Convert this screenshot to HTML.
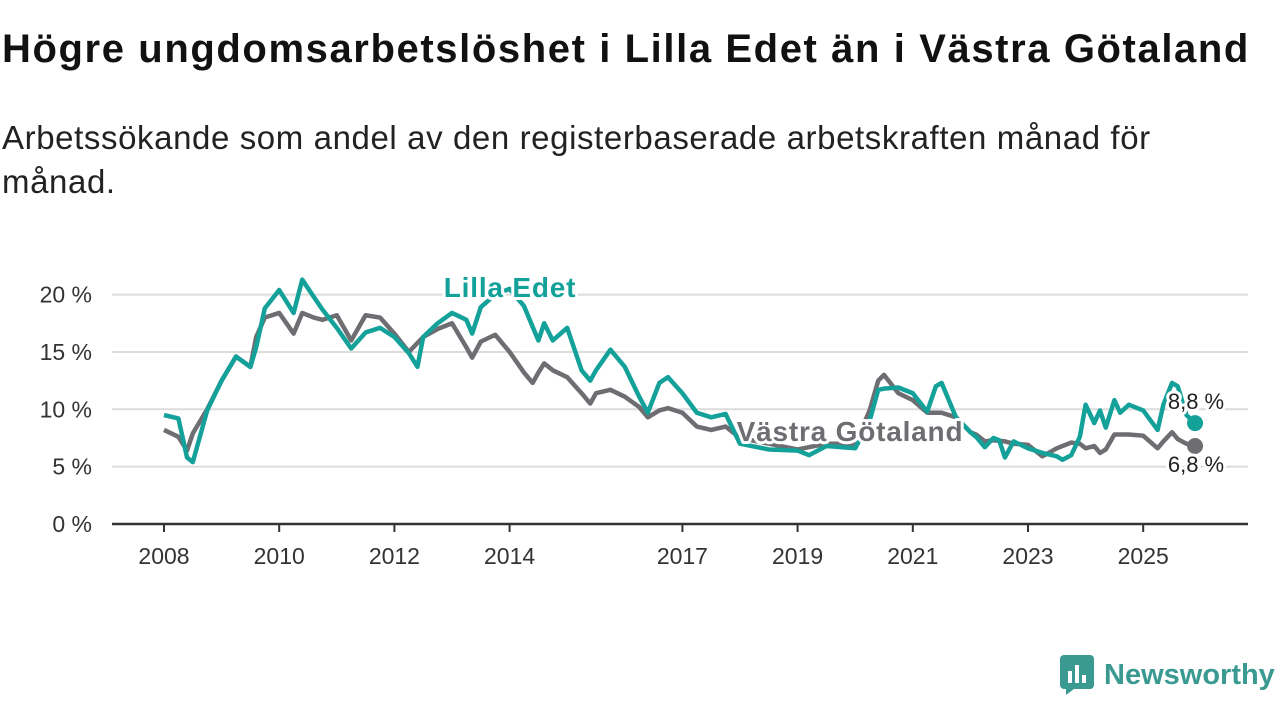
<!DOCTYPE html>
<html><head><meta charset="utf-8">
<style>
body{margin:0;width:1280px;height:720px;background:#fff;font-family:"Liberation Sans",sans-serif;overflow:hidden;position:relative}
h1{position:absolute;left:2px;top:26px;margin:0;font-size:40px;line-height:46px;font-weight:bold;color:#111;letter-spacing:1.6px;white-space:nowrap}
.sub{position:absolute;left:2px;top:116px;margin:0;font-size:33px;line-height:44px;color:#222;width:1180px;letter-spacing:0.6px}
svg{position:absolute;left:0;top:0}
.logo{position:absolute;left:1060px;top:655px;display:flex;align-items:center;color:#3a9a91;font-size:29px;font-weight:bold}
</style></head><body>
<h1>Högre ungdomsarbetslöshet i Lilla Edet än i Västra Götaland</h1>
<p class="sub">Arbetssökande som andel av den registerbaserade arbetskraften månad för månad.</p>
<svg id="chart" width="1280" height="720"></svg>
<div class="logo">
<svg width="36" height="40" style="position:static;margin-right:8px"><rect x="0" y="0" width="34" height="34" rx="4" fill="#3a9a91"/><path d="M6 34 L6 40 L14 34Z" fill="#3a9a91"/><rect x="8" y="16" width="4" height="12" fill="#fff"/><rect x="15" y="10" width="4" height="18" fill="#fff"/><rect x="22" y="20" width="4" height="8" fill="#fff"/></svg>
<span>Newsworthy</span></div>
<script>
const leDates=[2008.0,2008.25,2008.4,2008.5,2008.75,2009.0,2009.25,2009.5,2009.6,2009.75,2010.0,2010.25,2010.4,2010.6,2010.75,2011.0,2011.25,2011.5,2011.75,2012.0,2012.25,2012.4,2012.5,2012.75,2013.0,2013.25,2013.35,2013.5,2013.75,2014.0,2014.25,2014.4,2014.5,2014.6,2014.75,2015.0,2015.25,2015.4,2015.5,2015.75,2016.0,2016.25,2016.4,2016.6,2016.75,2017.0,2017.25,2017.5,2017.75,2018.0,2018.5,2019.0,2019.2,2019.5,2020.0,2020.25,2020.4,2020.5,2020.75,2021.0,2021.25,2021.4,2021.5,2021.75,2022.0,2022.1,2022.25,2022.4,2022.5,2022.6,2022.75,2023.0,2023.25,2023.5,2023.6,2023.75,2023.9,2024.0,2024.15,2024.25,2024.35,2024.5,2024.6,2024.75,2025.0,2025.25,2025.35,2025.5,2025.6,2025.75,2025.9];
const leValues=[9.5,9.2,5.8,5.4,9.9,12.5,14.6,13.7,15.4,18.8,20.4,18.4,21.3,19.8,18.7,17.1,15.3,16.7,17.1,16.3,14.9,13.7,16.3,17.5,18.4,17.8,16.6,18.9,20.0,20.5,19.0,17.2,16.0,17.5,16.0,17.1,13.4,12.5,13.4,15.2,13.7,11.1,9.7,12.3,12.8,11.4,9.7,9.3,9.6,7.0,6.5,6.4,6.0,6.8,6.6,9.0,11.7,11.8,11.9,11.4,9.8,12.0,12.3,9.3,8.0,7.6,6.7,7.5,7.3,5.8,7.2,6.6,6.2,5.9,5.6,6.0,7.6,10.4,8.8,9.9,8.4,10.8,9.7,10.4,9.9,8.2,10.4,12.3,12.0,9.5,8.8];
const vgDates=[2008.0,2008.25,2008.4,2008.5,2008.75,2009.0,2009.25,2009.5,2009.6,2009.75,2010.0,2010.25,2010.4,2010.6,2010.75,2011.0,2011.25,2011.5,2011.75,2012.0,2012.25,2012.5,2012.75,2013.0,2013.25,2013.35,2013.5,2013.75,2014.0,2014.25,2014.4,2014.5,2014.6,2014.75,2015.0,2015.25,2015.4,2015.5,2015.75,2016.0,2016.25,2016.4,2016.6,2016.75,2017.0,2017.25,2017.5,2017.75,2018.0,2018.5,2019.0,2019.5,2020.0,2020.25,2020.4,2020.5,2020.75,2021.0,2021.25,2021.5,2021.75,2022.0,2022.1,2022.25,2022.4,2022.6,2022.75,2023.0,2023.25,2023.5,2023.75,2023.9,2024.0,2024.15,2024.25,2024.35,2024.5,2024.75,2025.0,2025.25,2025.35,2025.5,2025.6,2025.75,2025.9];
const vgValues=[8.2,7.6,6.4,7.9,10.0,12.5,14.6,13.7,16.3,18.0,18.4,16.6,18.4,18.0,17.8,18.2,16.0,18.2,18.0,16.6,15.0,16.3,17.0,17.5,15.4,14.5,15.9,16.5,15.0,13.2,12.3,13.2,14.0,13.4,12.8,11.4,10.5,11.4,11.7,11.1,10.2,9.3,9.9,10.1,9.7,8.5,8.2,8.5,7.5,7.0,6.5,7.0,7.0,9.9,12.5,13.0,11.4,10.8,9.7,9.7,9.3,8.0,7.8,7.2,7.3,7.2,7.0,6.9,5.9,6.6,7.1,7.0,6.6,6.8,6.2,6.5,7.8,7.8,7.7,6.6,7.2,8.0,7.4,7.0,6.8];
const yTicks=[0,5,10,15,20];
const yTickLabels=["0 %","5 %","10 %","15 %","20 %"];
const xTicks=[2008,2010,2012,2014,2017,2019,2021,2023,2025];
const xTickLabels=["2008","2010","2012","2014","2017","2019","2021","2023","2025"];
const NS="http://www.w3.org/2000/svg";
const svg=document.getElementById('chart');
const X=t=>164+(t-2008)*57.6;
const Y=v=>524-v*11.47;
function mk(tag,attrs,parent){const e=document.createElementNS(NS,tag);for(const k in attrs)e.setAttribute(k,attrs[k]);(parent||svg).appendChild(e);return e;}
yTicks.forEach((v,i)=>{
  if(v>0){const g=mk('line',{x1:112,x2:1248,y1:Y(v),y2:Y(v),stroke:'#dcdcdc','stroke-width':2});
  
  }
  const t=mk('text',{x:92,y:Y(v)+8,'text-anchor':'end','font-size':23,fill:'#333'});t.textContent=yTickLabels[i];
  
  
});
const ax=mk('line',{x1:112,x2:1248,y1:Y(0),y2:Y(0),stroke:'#333','stroke-width':2.5});


xTicks.forEach((v,i)=>{
  const tk=mk('line',{x1:X(v),x2:X(v),y1:Y(0),y2:Y(0)+8,stroke:'#333','stroke-width':2});
  
  
  const t=mk('text',{x:X(v),y:564,'text-anchor':'middle','font-size':23,fill:'#333'});t.textContent=xTickLabels[i];
  
  
});
function line(d,v,col,name){
  const p=mk('polyline',{points:d.map((t,i)=>X(t)+','+Y(v[i])).join(' '),fill:'none',stroke:col,'stroke-width':4.5,'stroke-linejoin':'round'});
  
  
  const c=mk('circle',{cx:X(d[d.length-1]),cy:Y(v[v.length-1]),r:8,fill:col});
  
  
}
line(vgDates,vgValues,'#6e6d72','vastra-gotaland-line');
line(leDates,leValues,'#14a19a','lilla-edet-line');
function lbl(x,y,txt,col,bold,size,anchor,name,ls){
  const t=mk('text',{x:x,y:y,'text-anchor':anchor,'font-size':size,'font-weight':bold?'bold':'normal',fill:col,stroke:'#fff','stroke-width':6,'paint-order':'stroke','stroke-linejoin':'round','letter-spacing':ls||0});
  t.textContent=txt;
  
  
}
lbl(510,297,'Lilla Edet','#14a19a',true,28,'middle','lilla-edet-label',0.8);
lbl(850,441,'Västra Götaland','#6e6d72',true,28,'middle','vastra-gotaland-label',0.8);
lbl(1196,409,'8,8 %','#222',false,22,'middle','lilla-edet-end-value');
lbl(1196,472,'6,8 %','#222',false,22,'middle','vastra-gotaland-end-value');
</script>
</body></html>
